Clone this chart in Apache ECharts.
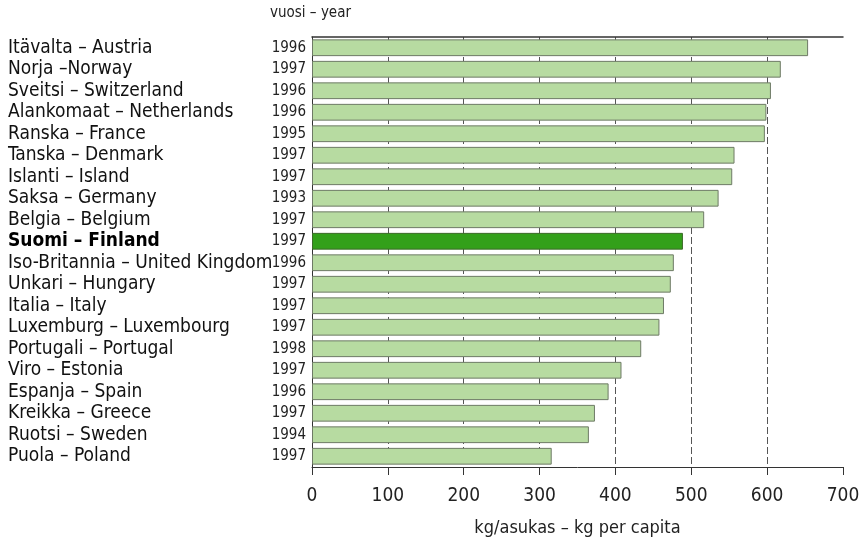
<!DOCTYPE html>
<html>
<head>
<meta charset="utf-8">
<script src="https://cdn.jsdelivr.net/npm/echarts@6/dist/echarts.min.js"></script>
<style>
html,body{margin:0;padding:0;background:#fff;}
#c{width:866px;height:538px;}
</style>
</head>
<body>
<div id="c"></div>
<script>
const countries = ['Itävalta – Austria', 'Norja –Norway', 'Sveitsi – Switzerland', 'Alankomaat – Netherlands', 'Ranska – France', 'Tanska – Denmark', 'Islanti – Island', 'Saksa – Germany', 'Belgia – Belgium', 'Suomi – Finland', 'Iso-Britannia – United Kingdom', 'Unkari – Hungary', 'Italia – Italy', 'Luxemburg – Luxembourg', 'Portugali – Portugal', 'Viro – Estonia', 'Espanja – Spain', 'Kreikka – Greece', 'Ruotsi – Sweden', 'Puola – Poland'];
const years = ['1996','1997','1996','1996','1995','1997','1997','1993','1997','1997','1996','1997','1997','1997','1998','1997','1996','1997','1994','1997'];
const values = [654,618,605,599,597,557,554,536,517,489,477,473,464,458,434,408,391,373,365,316];
const highlight = 'Suomi – Finland';
const xTicks = [0,100,200,300,400,500,600,700];

const FONT = '"Liberation Sans Narrow", "DejaVu Sans Condensed", "Liberation Sans", sans-serif';
const chart = echarts.init(document.getElementById('c'), null, {renderer:'canvas'});

const barData = values.map((v,i)=>({
  value: v,
  itemStyle: countries[i] === highlight ? {color:'#33a01a', borderColor:'#3d6b2a'} : undefined
}));

chart.setOption({
  backgroundColor:'#ffffff',
  animation:false,
  grid:{left:312, right:23, top:37, bottom:71, containLabel:false, outerBoundsMode:'none'},
  graphic:[{type:'text', left:270, top:6, style:{text:'vuosi – year', font:'15px '+FONT, fill:'#222'}}],
  xAxis:[{
    type:'value', min:xTicks[0], max:xTicks[xTicks.length-1], interval:100, position:'bottom',
    axisLine:{show:true, lineStyle:{color:'#333', width:1}},
    axisTick:{show:true, length:8, lineStyle:{color:'#333'}},
    axisLabel:{color:'#222', fontFamily:FONT, fontSize:19, margin:20},
    splitLine:{show:true, showMinLine:false, showMaxLine:false, lineStyle:{color:'#555', type:[7,3], width:1}},
    name:'kg/asukas – kg per capita', nameLocation:'middle', nameGap:52,
    nameTextStyle:{color:'#222', fontFamily:FONT, fontSize:18}
  },{
    type:'value', min:0, max:700, interval:100, position:'top',
    axisLine:{show:true, lineStyle:{color:'#333', width:1.5}},
    axisTick:{show:false}, axisLabel:{show:false}, splitLine:{show:false}
  }],
  yAxis:[{
    type:'category', data:countries, inverse:true, position:'left',
    axisLine:{show:true, lineStyle:{color:'#333'}}, axisTick:{show:false},
    axisLabel:{
      interval:0, align:'left', margin:304, color:'#111', fontFamily:FONT, fontSize:19,
      formatter:(v)=> v===highlight ? '{b|'+v+'}' : v,
      rich:{b:{fontWeight:'bold', fontFamily:FONT, fontSize:19, color:'#000'}}
    }
  },{
    type:'category', data:years, inverse:true, position:'left', offset:0,
    axisLine:{show:false}, axisTick:{show:false},
    axisLabel:{interval:0, align:'right', margin:6, color:'#222', fontFamily:FONT, fontSize:15}
  }],
  series:[{
    type:'bar', data:barData, barCategoryGap:'22%',
    itemStyle:{color:'#b7dba1', borderColor:'#6e7a66', borderWidth:1},
    z:3
  }]
});
</script>
</body>
</html>
